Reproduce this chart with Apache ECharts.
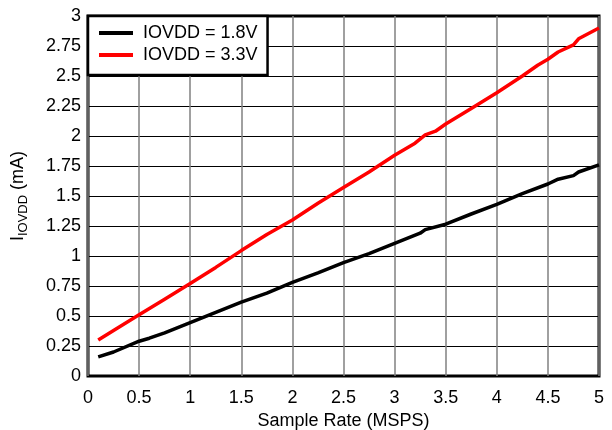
<!DOCTYPE html>
<html><head><meta charset="utf-8">
<script src="https://cdn.jsdelivr.net/npm/echarts@6/dist/echarts.min.js"></script>
<style>html,body{margin:0;padding:0;background:#fff}#c{width:612px;height:430px}</style>
</head><body><div id="c"></div>
<script>
const seriesNames = ['IOVDD = 1.8V', 'IOVDD = 3.3V'];
const rate18 = [0.1,0.25,0.5,0.6,0.75,1.0,1.25,1.5,1.75,2.0,2.25,2.5,2.75,3.0,3.25,3.3,3.5,3.75,4.0,4.25,4.5,4.6,4.75,4.8,5.0];
const iovdd18 = [0.16,0.20,0.29,0.315,0.36,0.445,0.53,0.615,0.69,0.78,0.86,0.945,1.02,1.105,1.19,1.22,1.265,1.35,1.43,1.52,1.6,1.64,1.67,1.70,1.76];
const rate33 = [0.1,0.25,0.5,0.75,1.0,1.25,1.5,1.75,2.0,2.25,2.5,2.75,3.0,3.2,3.3,3.4,3.5,3.75,4.0,4.25,4.4,4.5,4.6,4.75,4.8,5.0];
const iovdd33 = [0.30,0.38,0.51,0.64,0.77,0.905,1.045,1.18,1.30,1.44,1.57,1.70,1.84,1.94,2.01,2.04,2.10,2.23,2.36,2.50,2.59,2.64,2.70,2.76,2.81,2.90];
const xTicks = [0,0.5,1,1.5,2,2.5,3,3.5,4,4.5,5];
const yTicks = [0,0.25,0.5,0.75,1,1.25,1.5,1.75,2,2.25,2.5,2.75,3];

const zip = (a,b) => a.map((v,i)=>[v,b[i]]);
const chart = echarts.init(document.getElementById('c'));
const font = 'Liberation Sans, Arial, sans-serif';
chart.setOption({
  animation:false,
  grid:{left:88,right:13,top:16,bottom:54,containLabel:false,outerBoundsMode:'none',show:true,borderColor:'#000',borderWidth:3,backgroundColor:'transparent'},
  legend:{
    data:seriesNames, orient:'vertical', left:88, top:16,
    backgroundColor:'#fff', borderColor:'#000', borderWidth:2.5, borderRadius:0,
    padding:[8,10,11,11], itemGap:4, itemWidth:34, itemHeight:4, icon:'rect',
    textStyle:{fontFamily:font,fontSize:18,color:'#000',padding:[0,0,0,5]}
  },
  xAxis:{
    type:'value', min:0, max:5, interval:0.5,
    name:'Sample Rate (MSPS)', nameLocation:'middle', nameGap:25,
    nameTextStyle:{fontFamily:font,fontSize:18,color:'#000'},
    axisLine:{show:false}, axisTick:{show:false},
    axisLabel:{fontFamily:font,fontSize:18,color:'#000',margin:13,formatter:v=>String(v)},
    splitLine:{show:true,lineStyle:{color:'#808080',width:1.5}}
  },
  yAxis:{
    type:'value', min:0, max:3, interval:0.25,
    name:'{a|I}{b|IOVDD}{a| (mA)}', nameLocation:'middle', nameGap:58, nameRotate:90,
    nameTextStyle:{rich:{a:{fontFamily:font,fontSize:18,color:'#000'},b:{fontFamily:font,fontSize:13,color:'#000',padding:[10,0,0,0]}}},
    axisLine:{show:false}, axisTick:{show:false},
    axisLabel:{fontFamily:font,fontSize:18,color:'#000',margin:7,formatter:v=>String(v)},
    splitLine:{show:true,lineStyle:{color:'#000',width:1}}
  },
  series:[
    {name:seriesNames[0],type:'line',data:zip(rate18,iovdd18),showSymbol:false,symbol:'none',lineStyle:{color:'#000',width:3.5},itemStyle:{color:'#000'}},
    {name:seriesNames[1],type:'line',data:zip(rate33,iovdd33),showSymbol:false,symbol:'none',lineStyle:{color:'#ff0000',width:3.5},itemStyle:{color:'#ff0000'}}
  ]
});
</script></body></html>
